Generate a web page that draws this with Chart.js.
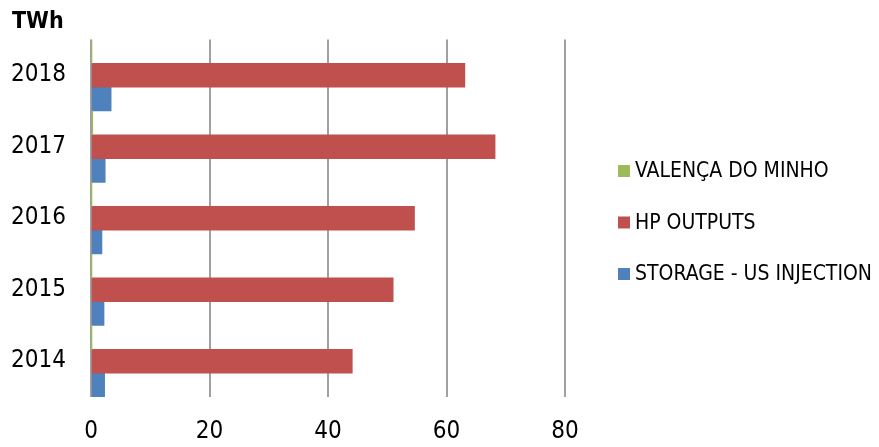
<!DOCTYPE html>
<html>
<head>
<meta charset="utf-8">
<script src="https://cdn.jsdelivr.net/npm/chart.js@4.4.0/dist/chart.umd.min.js"></script>
<style>
  html, body { margin: 0; padding: 0; background: #fff; }
</style>
</head>
<body>
<canvas id="bar" width="879" height="447"></canvas>
<script>
// jaren (van boven naar onder)
var jaren = ['2018', '2017', '2016', '2015', '2014'];

// TWh per reeks
var valenca = [0.1, 0.3, 0.05, 0.02, 0.02];
var hpOutputs = [63.1, 68.2, 54.6, 51.0, 44.1];
var storage = [3.4, 2.4, 1.85, 2.2, 2.3];

var xTicks = [0, 20, 40, 60, 80];

var fontFam = '"DejaVu Sans Condensed", "DejaVu Sans", sans-serif';

// legenda rechts, zelf getekend zodat de plaats vast ligt
var legendePlugin = {
    id: 'legende',
    afterDraw: function (chart) {
        var c = chart.ctx;
        c.save();
        c.font = '21px ' + fontFam;
        c.textBaseline = 'middle';
        c.textAlign = 'left';
        chart.data.datasets.forEach(function (ds, i) {
            var y = 170 + i * 51.5;
            c.fillStyle = ds.backgroundColor;
            c.fillRect(618, y - 5, 12, 12);
            c.fillStyle = '#000';
            c.fillText(ds.label, 635, y + 2);
        });
        c.restore();
    }
};

var ctx = document.getElementById('bar').getContext('2d');
var barChart = new Chart(ctx, {

    type: 'bar',

    data: {
        labels: jaren,
        datasets: [{
            label: 'VALENÇA DO MINHO',
            backgroundColor: '#9BBB59',
            data: valenca
        }, {
            label: 'HP OUTPUTS',
            backgroundColor: '#C0504D',
            data: hpOutputs
        }, {
            label: 'STORAGE - US INJECTION',
            backgroundColor: '#4F81BD',
            data: storage
        }]
    },

    options: {
        indexAxis: 'y',
        responsive: false,
        animation: false,
        categoryPercentage: 1,
        barPercentage: 1,
        layout: { padding: { left: 12, right: 314, top: 0, bottom: 0 } },
        scales: {
            x: {
                min: xTicks[0],
                max: xTicks[xTicks.length - 1],
                afterBuildTicks: function (axis) {
                    axis.ticks = xTicks.map(function (v) { return { value: v }; });
                },
                afterFit: function (axis) { axis.height = 50; },
                grid: { color: '#a0a0a0', lineWidth: 2, drawTicks: false },
                border: { display: false },
                ticks: {
                    color: '#000',
                    padding: 20,
                    maxRotation: 0,
                    font: { family: fontFam, size: 24 }
                }
            },
            y: {
                afterFit: function (axis) { axis.width = 79; },
                grid: { display: false, drawTicks: false },
                border: { display: false },
                ticks: {
                    color: '#000',
                    padding: 25,
                    font: { family: fontFam, size: 24 }
                }
            }
        },
        plugins: {
            title: {
                display: true,
                text: 'TWh',
                align: 'start',
                color: '#000',
                padding: { top: 5, bottom: 4 },
                font: { family: fontFam, size: 23, weight: 'bold' }
            },
            legend: { display: false },
            tooltip: { enabled: false }
        }
    },
    plugins: [legendePlugin]
});
</script>
</body>
</html>
